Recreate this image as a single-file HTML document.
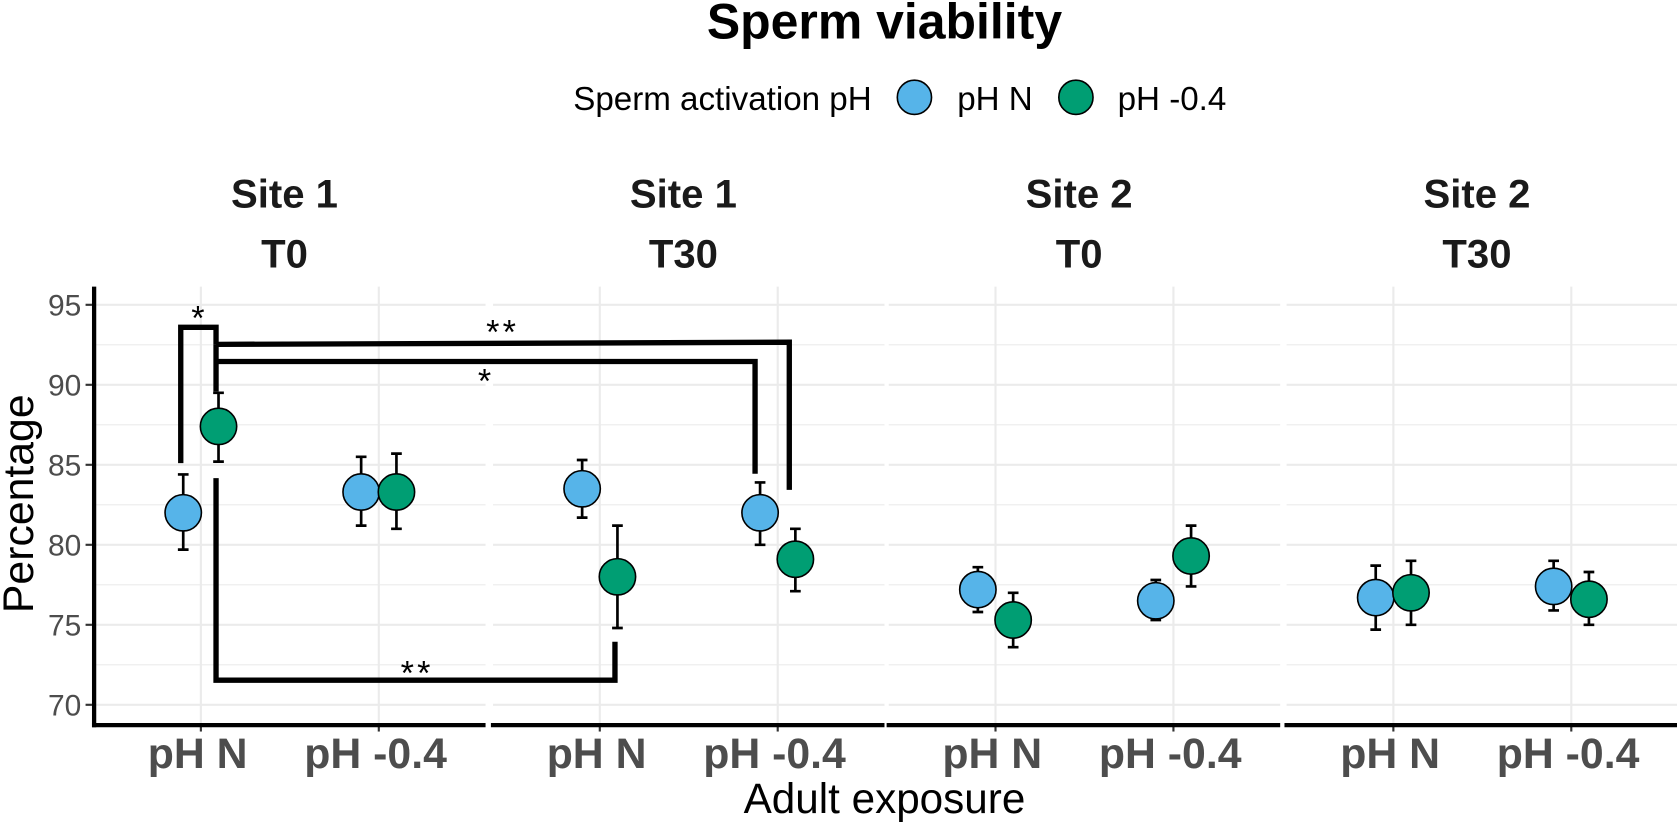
<!DOCTYPE html>
<html><head><meta charset="utf-8"><style>
body{margin:0;background:#fff}
svg text{font-family:"Liberation Sans",Arial,sans-serif}
</style></head><body>
<svg id="c" width="1677" height="824" viewBox="0 0 1677 824" xmlns="http://www.w3.org/2000/svg">
<g transform="scale(1.0695)">
<text x="827" y="36" text-anchor="middle" font-size="46.7" font-weight="bold">Sperm viability</text>
<g>
<text x="815" y="103" text-anchor="end" font-size="31">Sperm activation pH</text>
<circle cx="855" cy="91" r="16" fill="#56B4E9" stroke="#000" stroke-width="1.5"/>
<text x="895" y="103" font-size="31">pH N</text>
<circle cx="1006" cy="91" r="16" fill="#009E73" stroke="#000" stroke-width="1.5"/>
<text x="1045" y="103" font-size="31">pH -0.4</text>
</g>
<g id="plot"></g>
<text x="827" y="760" text-anchor="middle" font-size="39.5">Adult exposure</text>
<text transform="translate(31,471) rotate(-90)" text-anchor="middle" font-size="40">Percentage</text>
</g>
</svg>
<script>
const panels=["Site 1|T0","Site 1|T30","Site 2|T0","Site 2|T30"];
const categories=["pH N","pH -0.4"];
const yTicks=[70,75,80,85,90,95];
const blueMean=[[82.0,83.3],[83.5,82.0],[77.2,76.5],[76.7,77.4]];
const blueLo=[[79.7,81.2],[81.7,80.0],[75.8,75.3],[74.7,75.9]];
const blueHi=[[84.4,85.5],[85.3,83.9],[78.6,77.8],[78.7,79.0]];
const greenMean=[[87.4,83.3],[78.0,79.1],[75.3,79.3],[77.0,76.6]];
const greenLo=[[85.2,81.0],[74.8,77.1],[73.6,77.4],[75.0,75.0]];
const greenHi=[[89.5,85.7],[81.2,81.0],[77.0,81.2],[79.0,78.3]];
const NS="http://www.w3.org/2000/svg";
const g=document.getElementById('plot');
function el(t,a,p){const e=document.createElementNS(NS,t);for(const k in a)e.setAttribute(k,a[k]);(p||g).appendChild(e);return e;}
const yTop=268,yBot=678;
function y(v){return 659-(v-70)*14.96;}
const pL=[88,461,831,1203],pW=366;
function xc(p,i){return pL[p]+pW*(0.6+i)/2.2;}
const dodge=16.5;
panels.forEach((pn,p)=>{
  const x0=pL[p];
  for(let v=70;v<=95;v+=2.5){
    const l=el('line',{x1:x0,x2:x0+pW,y1:y(v),y2:y(v),stroke:'#ebebeb','stroke-width':v%5===0?2:1});
    
    
  }
  categories.forEach((c,i)=>{
    const l=el('line',{x1:xc(p,i),x2:xc(p,i),y1:yTop,y2:yBot,stroke:'#ebebeb','stroke-width':2});
    
    
    const tk=el('line',{x1:xc(p,i),x2:xc(p,i),y1:yBot,y2:yBot+6,stroke:'#333','stroke-width':2});
    
    
    const t=el('text',{x:xc(p,i)-3,y:718,'text-anchor':'middle','font-size':40,'font-weight':'bold',fill:'#4d4d4d'});
    t.textContent=c;
    
    
  });
  const parts=pn.split('|');
  const s1=el('text',{x:x0+pW/2-5,y:194,'text-anchor':'middle','font-size':37.5,'font-weight':'bold',fill:'#1a1a1a'});
  s1.textContent=parts[0];
  
  
  const s2=el('text',{x:x0+pW/2-5,y:250,'text-anchor':'middle','font-size':37.5,'font-weight':'bold',fill:'#1a1a1a'});
  s2.textContent=parts[1];
  
  
  const ax=el('line',{x1:x0-2,x2:x0+pW,y1:yBot,y2:yBot,stroke:'#000','stroke-width':4});
  
  
});
const yl=el('line',{x1:88,x2:88,y1:yTop,y2:yBot+2,stroke:'#000','stroke-width':4});


yTicks.forEach(v=>{
  const t=el('text',{x:76,y:y(v)+10,'text-anchor':'end','font-size':28,fill:'#4d4d4d'});
  t.textContent=v;
  
  
  const tk=el('line',{x1:80,x2:86,y1:y(v),y2:y(v),stroke:'#333','stroke-width':2});
  
  
});
const bp='stroke="#000" stroke-width="5" fill="none"';
g.insertAdjacentHTML('beforeend',
`<g>
<polyline points="169,433 169,306 202,306 202,322" ${bp}/>
<polyline points="202,322 738,320 738,458" ${bp}/>
<polyline points="202,322 202,366" ${bp}/>
<polyline points="202,338 706,338 706,443" ${bp}/>
<polyline points="202,447 202,636 575,636 575,600" ${bp}/>
<text x="185" y="308" text-anchor="middle" font-size="32">*</text>
<text x="470" y="321" text-anchor="middle" font-size="32" letter-spacing="3">**</text>
<text x="453" y="367" text-anchor="middle" font-size="32">*</text>
<text x="390" y="640" text-anchor="middle" font-size="32" letter-spacing="3">**</text>
</g>`);
function series(mean,lo,hi,off,col,name){
  panels.forEach((pn,p)=>{categories.forEach((c,i)=>{
    const x=xc(p,i)+off;
    const e=el('path',{d:`M${x-5},${y(lo[p][i])}H${x+5}M${x},${y(lo[p][i])}V${y(hi[p][i])}M${x-5},${y(hi[p][i])}H${x+5}`,stroke:'#000','stroke-width':2.5,fill:'none'});
    
    
  });});
  panels.forEach((pn,p)=>{categories.forEach((c,i)=>{
    const pt=el('circle',{cx:xc(p,i)+off,cy:y(mean[p][i]),r:17,fill:col,stroke:'#000','stroke-width':1.5});
    
    
  });});
}
series(blueMean,blueLo,blueHi,-dodge,'#56B4E9','ph-n');
series(greenMean,greenLo,greenHi,dodge,'#009E73','ph-04');
</script>
</body></html>
